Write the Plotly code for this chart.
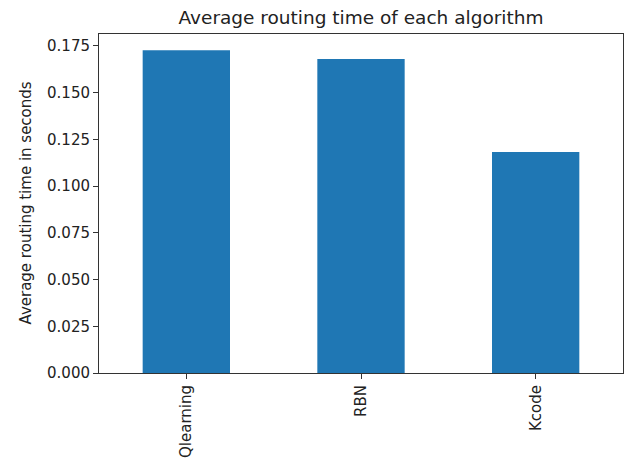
import plotly.graph_objects as go

# Average routing time per algorithm (seconds)
algorithms = ["Qlearning", "RBN", "Kcode"]
avg_times = [0.1727, 0.1680, 0.1182]
y_ticks = [0.000, 0.025, 0.050, 0.075, 0.100, 0.125, 0.150, 0.175]
y_tick_text = [f"{v:.3f}" for v in y_ticks]

W, H = 624, 462
L, R, T, B = 99, 1, 34, 89
FONT = "DejaVu Sans"

fig = go.Figure(
    go.Bar(
        x=algorithms,
        y=avg_times,
        width=0.5,
        marker=dict(color="#1f77b4", line=dict(width=0)),
    )
)

axis_common = dict(
    showline=True,
    linecolor="#333333",
    linewidth=1,
    mirror=True,
    ticks="outside",
    ticklen=5,
    tickwidth=1,
    tickcolor="#333333",
    showgrid=False,
    zeroline=False,
    tickfont=dict(family=FONT, size=15, color="#222222"),
)

fig.update_xaxes(
    **axis_common,
    range=[-0.5, 2.5],
    tickangle=-90,
)
fig.update_yaxes(
    **axis_common,
    range=[0, max(avg_times) * 1.05],
    tickvals=y_ticks,
    ticktext=y_tick_text,
)

plot_w = W - L - R
fig.add_annotation(
    text="Average routing time in seconds",
    xref="paper", yref="paper",
    x=(25 - L) / plot_w, y=0.5,
    xanchor="center", yanchor="middle",
    textangle=-90, showarrow=False,
    font=dict(family=FONT, size=15, color="#222222"),
)

fig.update_layout(
    width=W,
    height=H,
    margin=dict(l=L, r=R, t=T, b=B),
    paper_bgcolor="white",
    plot_bgcolor="white",
    showlegend=False,
    title=dict(
        text="Average routing time of each algorithm",
        font=dict(family=FONT, size=18.5, color="#222222"),
        xref="paper", x=0.5, xanchor="center",
        yref="container", y=1 - 18 / H, yanchor="middle",
    ),
)

fig.write_html("out.html")
